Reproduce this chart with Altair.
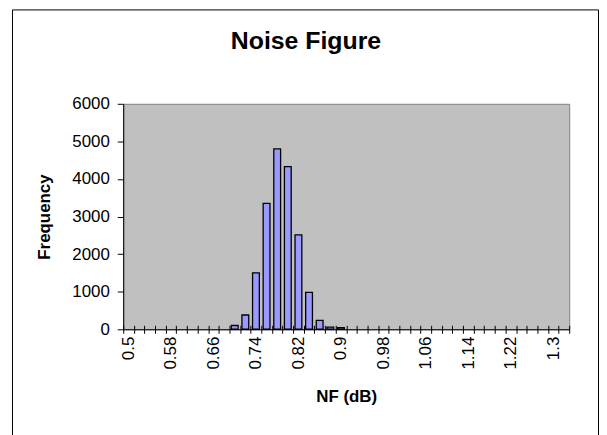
import json
import altair as alt
import pandas as pd

# ---- data ----
nf_bins = ["0.5", "0.52", "0.54", "0.56", "0.58", "0.6", "0.62", "0.64", "0.66", "0.68",
           "0.7", "0.72", "0.74", "0.76", "0.78", "0.8", "0.82", "0.84", "0.86", "0.88",
           "0.9", "0.92", "0.94", "0.96", "0.98", "1", "1.02", "1.04", "1.06", "1.08",
           "1.1", "1.12", "1.14", "1.16", "1.18", "1.2", "1.22", "1.24", "1.26", "1.28",
           "1.3", "1.32"]
frequency = [0, 0, 0, 0, 0, 0, 0, 0, 0, 0,
             100, 380, 1500, 3350, 4800, 4330, 2510, 980, 235, 55,
             45, 0, 0, 0, 0, 0, 0, 0, 0, 0,
             0, 0, 0, 0, 0, 0, 0, 0, 0, 0,
             0, 0]
shown_labels = nf_bins[::4]
y_ticks = [0, 1000, 2000, 3000, 4000, 5000, 6000]
chart_title = "Noise Figure"

df = pd.DataFrame({"nf": nf_bins, "freq": frequency})

FONT = "Liberation Sans"
label_expr = "indexof(%s, datum.label) >= 0 ? datum.label : ''" % json.dumps(shown_labels)

xscale = alt.Scale(domain=nf_bins, paddingInner=0, paddingOuter=0)
yscale = alt.Scale(domain=[0, 6000], nice=False)

bars = alt.Chart(df).transform_filter("datum.freq > 0").mark_bar(
    width={"band": 0.64}, fill="#9999FF", stroke="#000000", strokeWidth=1.3
).encode(
    x=alt.X("nf:N", scale=xscale, sort=nf_bins,
            axis=alt.Axis(title="NF (dB)", orient="bottom", labelAngle=-90, labelExpr=label_expr,
                          ticks=True, tickSize=4, tickBand="extent", tickColor="black",
                          domain=True, domainColor="black", labelPadding=3,
                          labelFontSize=17, labelFont=FONT, labelColor="black",
                          titleFont=FONT, titleFontSize=17, titleFontWeight="bold",
                          titleColor="black", titlePadding=20, grid=False)),
    y=alt.Y("freq:Q", scale=yscale,
            axis=alt.Axis(title="Frequency", values=y_ticks, format="d", tickSize=6,
                          tickColor="black", domainColor="black", labelPadding=8,
                          labelFontSize=17, labelFont=FONT, labelColor="black",
                          titleFont=FONT, titleFontSize=17, titleFontWeight="bold",
                          titleColor="black", titlePadding=18, grid=False)),
)

inner_ticks = alt.Chart(df).mark_bar(opacity=0).encode(
    x=alt.X("nf:N", scale=xscale, sort=nf_bins,
            axis=alt.Axis(title=None, orient="bottom", labels=False, domain=False, offset=-4,
                          tickSize=4, tickBand="extent", tickColor="black", grid=False)),
)

title_text = alt.Chart(alt.Data(values=[{"t": chart_title}])).mark_text(
    font=FONT, fontSize=25, fontWeight="bold", color="black",
    align="center", baseline="alphabetic", clip=False
).encode(text="t:N", x=alt.value(184), y=alt.value(-55))

frame = alt.Chart(alt.Data(values=[{"k": 1}])).mark_rect(
    fill="transparent", stroke="black", strokeWidth=1, clip=False
).encode(
    x=alt.value(-111.5), x2=alt.value(478.5), y=alt.value(-94.5), y2=alt.value(340)
)

chart = alt.layer(bars, inner_ticks, title_text, frame).resolve_axis(x="independent").properties(
    width=449, height=227,
    autosize=alt.AutoSizeParams(type="none"),
    padding={"left": 116, "top": 95, "right": 30, "bottom": 105},
    background="white",
).configure_view(fill="#C0C0C0", stroke="#808080", strokeWidth=1)

chart.save("out.html", embed_options={"renderer": "svg", "actions": False})
